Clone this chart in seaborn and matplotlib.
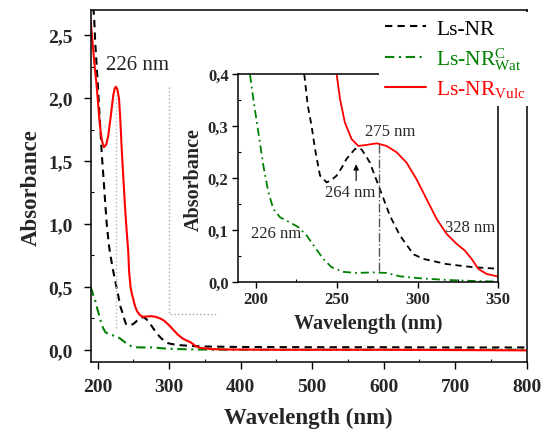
import numpy as np
import matplotlib
matplotlib.use("Agg")
import matplotlib.pyplot as plt
import seaborn as sns
from matplotlib.ticker import MultipleLocator, FuncFormatter

sns.set_theme(style="ticks")
plt.rcParams["font.family"] = ["Liberation Serif", "DejaVu Serif"]
plt.rcParams["mathtext.fontset"] = "custom"
plt.rcParams["mathtext.rm"] = "Liberation Serif"
plt.rcParams["mathtext.it"] = "Liberation Serif:italic"
plt.rcParams["mathtext.bf"] = "Liberation Serif:bold"

# ----- spectres (longueur d'onde en nm, absorbance) -----
nm_nr = [194, 195.2, 196.5, 198.6, 200.5, 202.2, 204, 205.6, 208, 210.2, 212.7,
         216, 220, 224, 227.4, 230.3, 232, 234.4, 236.5, 239.6, 243.7, 246.5,
         249.9, 253, 256, 261.2, 264, 265.4, 268, 270.5, 273.5, 276.7, 282.9,
         289.1, 297.4, 303.6, 318, 334.5, 350, 400, 500, 600, 700, 800]
abs_nr = [2.72, 2.63, 2.45, 2.26, 2.08, 1.91, 1.74, 1.57, 1.38, 1.20, 1.00,
          0.82, 0.68, 0.56, 0.47, 0.387, 0.34, 0.30, 0.256, 0.205, 0.192, 0.196,
          0.205, 0.22, 0.237, 0.256, 0.258, 0.255, 0.243, 0.23, 0.205, 0.179, 0.128,
          0.090, 0.054, 0.045, 0.035, 0.029, 0.026, 0.022, 0.020, 0.020, 0.018, 0.018]

nm_wat = [190, 192, 194, 196.2, 198.3, 201.4, 204.5, 207.6, 210.7, 214.8, 221,
          226.2, 231.3, 236.5, 241.6, 246.8, 254, 262.3, 272.6, 280.8, 289.1,
          301.5, 318, 334.5, 350, 400, 600, 800]
abs_wat = [0.50, 0.47, 0.43, 0.40, 0.352, 0.288, 0.224, 0.173, 0.141, 0.125, 0.115,
           0.106, 0.090, 0.067, 0.045, 0.029, 0.020, 0.018, 0.019, 0.018, 0.0115,
           0.0077, 0.0045, 0.0026, 0.0013, 0.0, 0.0, 0.0]

nm_vulc = [190, 192, 194, 196, 198.6, 201, 203.2, 206, 208.8, 212, 214.8, 218,
           221.8, 224, 225.6, 227.5, 229.8, 231.5, 233.6, 236, 238.2, 240.5, 242.8,
           244, 246, 248, 249.9, 252, 255, 259.2, 263.3, 268.5, 274.7, 280.8, 287,
           293.2, 299.4, 305.6, 311.8, 318, 324.2, 329.3, 333.5, 337.6, 342.8, 350,
           360, 380, 450, 600, 800]
abs_vulc = [2.62, 2.50, 2.37, 2.24, 2.10, 1.93, 1.78, 1.66, 1.61, 1.63, 1.70, 1.84,
            2.02, 2.08, 2.09, 2.07, 2.00, 1.85, 1.60, 1.36, 1.14, 0.95, 0.78,
            0.62, 0.50, 0.44, 0.40, 0.352, 0.307, 0.275, 0.262, 0.264, 0.267, 0.262, 0.25,
            0.23, 0.198, 0.16, 0.122, 0.093, 0.074, 0.061, 0.045, 0.026, 0.016, 0.011,
            0.005, 0.002, 0.0, 0.0, -0.005]

series = [
    (nm_nr, abs_nr, "Ls-NR", "black", (0, (3.5, 2.5))),
    (nm_wat, abs_wat, r"Ls-NR$^{\mathrm{C}}_{\mathrm{Wat}}$", "#008000", (0, (4.5, 2.2, 1, 2.2))),
    (nm_vulc, abs_vulc, r"Ls-NR$_{\mathrm{Vulc}}$", "#ff0000", "-"),
]

# annotations de l'encart : (texte, x, y)
notes_encart = [("226 nm", 212.3, 0.094), ("264 nm", 258.3, 0.173),
                ("275 nm", 282.9, 0.291), ("328 nm", 332.5, 0.106)]

virgule = FuncFormatter(lambda v, pos: f"{v:.1f}".replace(".", ","))


def style_axes(ax, fs_tick, maj_len, min_len, xpad, ypad):
    for sp in ax.spines.values():
        sp.set_linewidth(1.1)
        sp.set_color("black")
    ax.tick_params(which="major", direction="out", length=maj_len, width=1.0,
                   labelsize=fs_tick, color="black")
    ax.tick_params(axis="x", which="major", pad=xpad)
    ax.tick_params(axis="y", which="major", pad=ypad)
    ax.tick_params(which="minor", direction="in", length=min_len, width=0.8, color="black")
    for lab in ax.get_xticklabels() + ax.get_yticklabels():
        lab.set_fontweight("bold")
    ax.yaxis.set_major_formatter(virgule)


fig = plt.figure(figsize=(5.46, 4.31), dpi=100)
ax = fig.add_axes([0.166, 0.157, 0.7986, 0.8175])

for x, y, lab, col, ls in series:
    sns.lineplot(x=x, y=y, ax=ax, color=col, linestyle=ls, lw=1.5,
                 label=lab, legend=False, sort=False)

# reperes pointilles gris
ax.plot([226, 226], [0.17, 2.05], ls=":", color="#b5b5b5", lw=1)
ax.plot([300, 300, 366], [2.09, 0.288, 0.288], ls=":", color="#a8a8a8", lw=1)
ax.text(256, 2.27, "226 nm", fontsize=15, ha="center", va="center")

ax.set_xlim(190.2, 800)
ax.set_ylim(-0.1, 2.7)
ax.set_xticks(np.arange(200, 801, 100))
ax.set_yticks(np.arange(0, 2.51, 0.5))
ax.xaxis.set_minor_locator(MultipleLocator(50))
ax.yaxis.set_minor_locator(MultipleLocator(0.25))
ax.set_xlabel("Wavelength (nm)", fontsize=16.5, fontweight="bold", labelpad=9)
ax.set_ylabel("Absorbance", fontsize=16.5, fontweight="bold", labelpad=4.5)
style_axes(ax, 14, 5, 2.5, xpad=6, ypad=8)

# ----- encart zoom 190-350 nm -----
axi = fig.add_axes([0.4365, 0.3427, 0.476, 0.483])
for x, y, lab, col, ls in series:
    sns.lineplot(x=x, y=y, ax=axi, color=col, linestyle=ls, lw=1.3,
                 legend=False, sort=False)
axi.plot([276, 276], [0.022, 0.266], ls="-.", color="#555555", lw=1)
axi.annotate("", xy=(262, 0.232), xytext=(262, 0.19),
             arrowprops=dict(arrowstyle="-|>", color="black", lw=0.8, mutation_scale=8))
for txt, tx, ty in notes_encart:
    axi.text(tx, ty, txt, fontsize=12, ha="center", va="center")

axi.set_xlim(189, 350)
axi.set_ylim(0, 0.4)
axi.set_xticks([200, 250, 300, 350])
axi.set_yticks(np.arange(0, 0.41, 0.1))
axi.xaxis.set_minor_locator(MultipleLocator(25))
axi.yaxis.set_minor_locator(MultipleLocator(0.05))
axi.set_xlabel("Wavelength (nm)", fontsize=14.5, fontweight="bold", labelpad=4)
axi.set_ylabel("Absorbance", fontsize=14.5, fontweight="bold", labelpad=3)
style_axes(axi, 12, 4.5, 2.5, xpad=2, ypad=2.5)

handles, labels = ax.get_legend_handles_labels()
leg = fig.legend(handles, labels, loc="upper left",
                 bbox_to_anchor=(379 / 546, 1 - 13 / 431), frameon=True,
                 facecolor="white", edgecolor="none", framealpha=1, fancybox=False,
                 fontsize=15.5, handlelength=1.9, handletextpad=0.45,
                 labelspacing=0.3, borderpad=0.3, borderaxespad=0,
                 labelcolor="linecolor")

fig.savefig("out.png", dpi=100)
